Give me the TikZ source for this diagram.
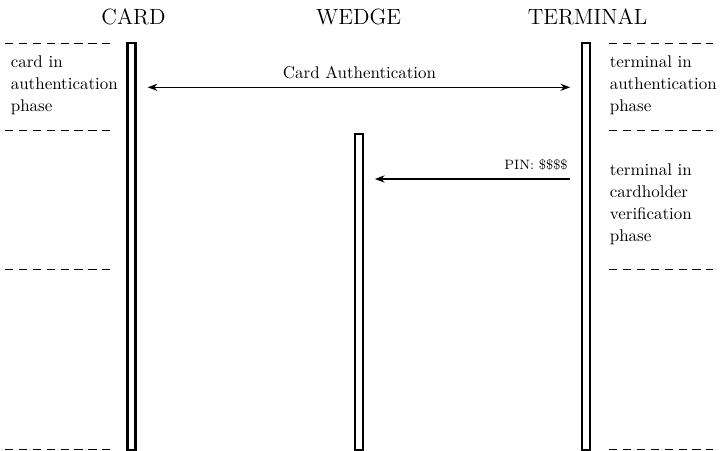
\documentclass[tikz,border=0pt]{standalone}
\usetikzlibrary{arrows.meta}
\begin{document}
\begin{tikzpicture}[x=0.59pt,y=-0.59pt,
  lifebox/.style={draw, line width=1.25pt, rectangle, minimum width=4.72pt, inner sep=0pt, outer sep=0.62pt},
  phaseline/.style={line width=0.45pt, dash pattern=on 5pt off 3.2pt},
  msg/.style={line width=0.6pt, shorten <=6.6pt, shorten >=6.6pt},
  head/.style={font={\fontsize{13}{16}\selectfont}, anchor=base, inner sep=0pt},
  note/.style={font={\fontsize{10}{13}\selectfont}, align=left, anchor=north west, inner sep=0pt},
  lbl/.style={inner sep=0pt}]
\useasboundingbox (0,0) rectangle (720,451);
% lifelines
\node[lifebox, minimum height=240.4pt, anchor=north] (card) at (131.5,42) {};
\node[lifebox, minimum height=186.9pt, anchor=north] (wedge) at (358.7,132.7) {};
\node[lifebox, minimum height=240.4pt, anchor=north] (terminal) at (586.3,42) {};
% headers
\node[head] (hcard) at (133.5,25) {CARD};
\node[head] (hwedge) at (358.7,25) {WEDGE};
\node[head] (hterm) at (587.5,25) {TERMINAL};
% phase separators
\foreach \yy in {43,130,269,449} {
  \draw[phaseline] (5,\yy) -- (110,\yy);
  \draw[phaseline] (609,\yy) -- (713,\yy);
}
% notes
\node[note] (n1) at (10.5,55.5) {card in\\authentication\\phase};
\node[note] (n2) at (609.5,55.5) {terminal in\\authentication\\phase};
\node[note] (n3) at (609.5,163.5) {terminal in\\cardholder\\verification\\phase};
% messages
\coordinate (y1) at (0,87.3);
\coordinate (y2) at (0,179);
\draw[msg, {Stealth}-{Stealth}] (card.east |- y1) -- (terminal.west |- y1);
\node[lbl, anchor=base] (l1) at (359.5,79) {Card Authentication};
\draw[msg, -{Stealth}] (terminal.west |- y2) -- (wedge.east |- y2);
\node[lbl, anchor=base east, font=\footnotesize] (l2) at (568,169.5) {PIN: \$\$\$\$};
\end{tikzpicture}
\end{document}
